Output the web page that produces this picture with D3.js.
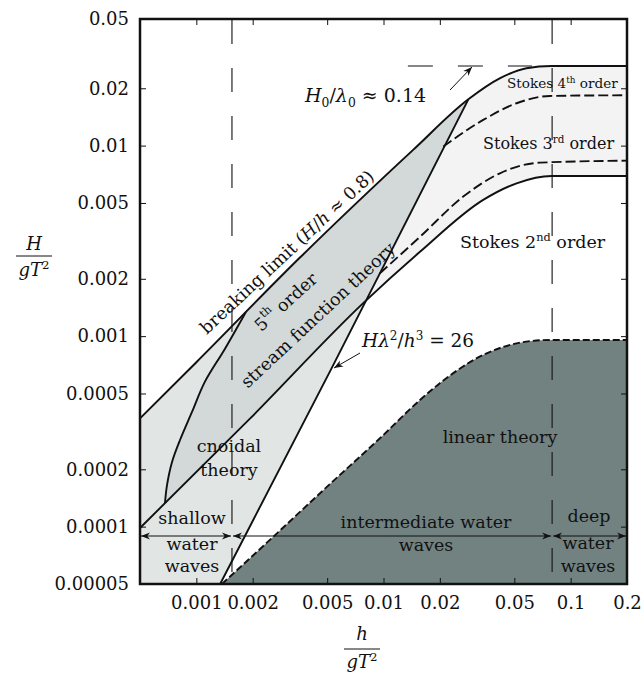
<!DOCTYPE html>
<html>
<head>
<meta charset="utf-8">
<script src="https://cdn.jsdelivr.net/npm/d3@7"></script>
<style>
  html, body { margin: 0; padding: 0; background: #fff; }
  svg { display: block; }
  text { font-family: "DejaVu Serif", serif; fill: #111; }
</style>
</head>
<body>
<svg id="chart" width="641" height="677"></svg>
<script>
// ---- axis ticks ----
const xTickValues = [0.001, 0.002, 0.005, 0.01, 0.02, 0.05, 0.1, 0.2];
const xTickLabels = ["0.001", "0.002", "0.005", "0.01", "0.02", "0.05", "0.1", "0.2"];
const yTickValues = [0.00005, 0.0001, 0.0002, 0.0005, 0.001, 0.002, 0.005, 0.01, 0.02, 0.05];
const yTickLabels = ["0.00005", "0.0001", "0.0002", "0.0005", "0.001", "0.002", "0.005", "0.01", "0.02", "0.05"];

// ---- shallow / intermediate / deep water limits (h/gT²) ----
const depthLimits = [0.0005, 0.00155, 0.0796, 0.2];

// ---- breaking limit, H/h ≈ 0.8 turning into H0/λ0 ≈ 0.14 ----
const breakingDepth  = [0.0005, 0.001, 0.0036, 0.0144, 0.0284, 0.042, 0.058, 0.079, 0.2];
const breakingHeight = [0.00037, 0.00073, 0.0026, 0.0095, 0.0175, 0.0226, 0.0255, 0.0262, 0.0262];

// ---- deep-water steepness limit H0/λ0 ≈ 0.14 (dashed guide) ----
const steepDepth  = [0.0135, 0.0621];
const steepHeight = [0.0262, 0.0262];

// ---- Ursell limit Hλ²/h³ = 26 ----
const ursellDepth  = [0.00134, 0.00537, 0.0284];
const ursellHeight = [0.00005, 0.0007, 0.0175];

// ---- lower bound of stream function / Stokes region (solid) ----
const lowerDepth  = [0.0005, 0.00194, 0.00779, 0.01566, 0.0341, 0.0514, 0.0791, 0.2];
const lowerHeight = [0.0000984, 0.00037, 0.00149, 0.00277, 0.00519, 0.00634, 0.00693, 0.00693];

// ---- cnoidal / stream function boundary ----
const cnoidalDepth  = [0.00068, 0.000697, 0.000741, 0.000818, 0.000948, 0.00111, 0.00142, 0.00184];
const cnoidalHeight = [0.000133, 0.000165, 0.000218, 0.000285, 0.0004, 0.000575, 0.000857, 0.00134];

// ---- Stokes 4th / 3rd order boundary ----
const stokes4Depth  = [0.02086, 0.0341, 0.0514, 0.0775, 0.2];
const stokes4Height = [0.00988, 0.01364, 0.01669, 0.01823, 0.01838];

// ---- Stokes 3rd / 2nd order boundary ----
const stokes3Depth  = [0.00957, 0.01566, 0.02667, 0.0419, 0.0686, 0.2];
const stokes3Height = [0.00214, 0.00332, 0.0054, 0.00716, 0.00814, 0.00834];

// ---- upper limit of linear theory ----
const linearDepth  = [0.00137, 0.00257, 0.00518, 0.00957, 0.01566, 0.02, 0.0356, 0.0536, 0.0775, 0.2];
const linearHeight = [0.00005, 0.0000883, 0.0001675, 0.000291, 0.000462, 0.000566, 0.000813, 0.000924, 0.000955, 0.000955];

// ---- scales ----
const padL = 140, padR = 627, padT = 19, padB = 584;
const x = d3.scaleLog().domain([0.0005, 0.2]).range([padL, padR]);
const y = d3.scaleLog().domain([0.00005, 0.0462]).range([padB, padT]).clamp(true);

const svg = d3.select("#chart");

const pts = (xs, ys) => xs.map((v, i) => [x(v), y(ys[i])]);
const mono = d3.line().curve(d3.curveMonotoneX);
const lin = d3.line();
const smooth = d3.line().curve(d3.curveCatmullRom.alpha(0.5));
const join = (...parts) => parts.map((p, i) => i ? p.replace(/^M/, "L") : p).join("") + "Z";

const bk = pts(breakingDepth, breakingHeight);
const ur = pts(ursellDepth, ursellHeight);
const lw = pts(lowerDepth, lowerHeight);
const cn = pts(cnoidalDepth, cnoidalHeight);
const s4 = pts(stokes4Depth, stokes4Height);
const s3 = pts(stokes3Depth, stokes3Height);
const ln = pts(linearDepth, linearHeight);
const tip = bk.length - 5; // breaking point where the Ursell line ends

// ---- filled regions ----
const fills = svg.append("g");

// shallow / cnoidal region under the breaking limit, left of the Ursell line
fills.append("path")
  .attr("d", join(mono(bk.slice(0, tip + 1)), lin(ur.slice().reverse()), lin([[x(0.0005), y(0.00005)]])))
  .attr("fill", "#e1e5e4");

// Stokes band right of the Ursell line
fills.append("path")
  .attr("d", join(mono(bk.slice(tip)), mono(lw.slice(2).reverse())))
  .attr("fill", "#f3f3f3");

// 5th order stream function lens
fills.append("path")
  .attr("d", join(smooth(cn), mono([cn[cn.length - 1], ...bk.slice(2, tip + 1)]),
                  lin([bk[tip], lw[2], lw[1], cn[0]])))
  .attr("fill", "#d3d9d9");

// linear theory region
fills.append("path")
  .attr("d", join(mono(ln), lin([[x(0.2), y(0.00005)]])))
  .attr("fill", "#728281");

// ---- ticks (inward, all four sides) ----
const fontFix = g => g.selectAll("text").style("font-family", '"DejaVu Serif", serif').attr("fill", "#111");
const axB = svg.append("g").attr("transform", `translate(0,${padB})`)
  .call(d3.axisBottom(x).tickValues(xTickValues).tickFormat((d, i) => xTickLabels[i]).tickSize(-6).tickPadding(12));
const axT = svg.append("g").attr("transform", `translate(0,${padT})`)
  .call(d3.axisTop(x).tickValues(xTickValues).tickFormat("").tickSize(-6));
const axL = svg.append("g").attr("transform", `translate(${padL},0)`)
  .call(d3.axisLeft(y).tickValues(yTickValues).tickFormat((d, i) => yTickLabels[i]).tickSize(-6).tickPadding(11));
const axR = svg.append("g").attr("transform", `translate(${padR},0)`)
  .call(d3.axisRight(y).tickValues(yTickValues).tickFormat("").tickSize(-6));
[axB, axT, axL, axR].forEach(g => {
  g.select(".domain").remove();
  g.selectAll("line").attr("stroke", "#111").attr("stroke-width", 1);
  g.attr("font-size", 18);
  fontFix(g);
});

// ---- region divider verticals ----
svg.append("g").selectAll("line").data([depthLimits[1], depthLimits[2]]).join("line")
  .attr("x1", d => x(d)).attr("x2", d => x(d))
  .attr("y1", padT + 1).attr("y2", padB)
  .attr("stroke", "#111").attr("stroke-width", 1.1).attr("stroke-dasharray", "24,24");

// ---- curves ----
const curves = svg.append("g").attr("fill", "none").attr("stroke", "#111").attr("stroke-linejoin", "round");
curves.append("path").attr("d", mono(bk)).attr("stroke-width", 2);
curves.append("path").attr("d", lin(ur)).attr("stroke-width", 1.9);
curves.append("path").attr("d", mono(lw)).attr("stroke-width", 1.9);
curves.append("path").attr("d", smooth(cn)).attr("stroke-width", 1.9);
curves.append("path").attr("d", mono(s4)).attr("stroke-width", 1.9).attr("stroke-dasharray", "10,4");
curves.append("path").attr("d", mono(s3)).attr("stroke-width", 1.9).attr("stroke-dasharray", "10,4");
curves.append("path").attr("d", mono(ln)).attr("stroke-width", 1.9).attr("stroke-dasharray", "7,3");
curves.append("path").attr("d", lin(pts(steepDepth, steepHeight))).attr("stroke-width", 1.1).attr("stroke-dasharray", "25,25");

// ---- arrow markers ----
const defs = svg.append("defs");
defs.append("marker").attr("id", "head").attr("viewBox", "0 0 10 10")
  .attr("refX", 10).attr("refY", 5).attr("markerWidth", 9).attr("markerHeight", 9)
  .attr("markerUnits", "userSpaceOnUse").attr("orient", "auto-start-reverse")
  .append("path").attr("d", "M0,1 L10,5 L0,9 L3,5 Z").attr("fill", "#111");

// water depth ranges
const arrowY = 536;
svg.append("g").selectAll("line").data(d3.pairs(depthLimits)).join("line")
  .attr("x1", d => x(d[0]) + 1).attr("x2", d => x(d[1]) - 1)
  .attr("y1", arrowY).attr("y2", arrowY)
  .attr("stroke", "#111").attr("stroke-width", 1.1)
  .attr("marker-start", "url(#head)").attr("marker-end", "url(#head)");

// label pointers
svg.append("line").attr("x1", 450).attr("y1", 90).attr("x2", 472).attr("y2", 67)
  .attr("stroke", "#111").attr("stroke-width", 1).attr("marker-end", "url(#head)");
svg.append("line").attr("x1", 360).attr("y1", 353).attr("x2", 334).attr("y2", 368)
  .attr("stroke", "#111").attr("stroke-width", 1).attr("marker-end", "url(#head)");

// ---- frame ----
svg.append("rect").attr("x", padL).attr("y", padT).attr("width", padR - padL).attr("height", padB - padT)
  .attr("fill", "none").attr("stroke", "#111").attr("stroke-width", 2.5);

// ---- text ----
const T = svg.append("g");
function label(parts, opts) {
  const fs = opts.size || 17.5;
  const t = T.append("text")
    .attr("x", opts.x).attr("y", opts.y)
    .attr("font-size", fs)
    .attr("text-anchor", opts.anchor || "start");
  if (opts.rotate !== undefined) {
    t.attr("transform", `rotate(${opts.rotate},${opts.x},${opts.y})`)
     .attr("dominant-baseline", "central");
  }
  let shift = 0;
  parts.forEach(p => {
    const s = t.append("tspan").text(p.t);
    if (p.i) s.attr("font-style", "italic");
    const want = p.sup ? -0.4 : p.sub ? 0.25 : 0;
    if (want !== shift) s.attr("dy", (want - shift) * fs);
    shift = want;
    if (p.sup || p.sub) s.attr("font-size", fs * 0.65);
  });
  return t;
}
const plain = s => [{ t: s }];

label(plain("shallow"), { x: 192, y: 524, anchor: "middle" });
label(plain("water"), { x: 192, y: 550, anchor: "middle" });
label(plain("waves"), { x: 192, y: 572, anchor: "middle" });
label(plain("intermediate water"), { x: 426, y: 528, anchor: "middle" });
label(plain("waves"), { x: 426, y: 551, anchor: "middle" });
label(plain("deep"), { x: 589, y: 522, anchor: "middle" });
label(plain("water"), { x: 588, y: 549, anchor: "middle" });
label(plain("waves"), { x: 588, y: 572, anchor: "middle" });
label(plain("linear theory"), { x: 500, y: 443, anchor: "middle" });
label(plain("cnoidal"), { x: 229, y: 452, anchor: "middle" });
label(plain("theory"), { x: 229, y: 476, anchor: "middle" });

label([{ t: "Stokes 2" }, { t: "nd", sup: true }, { t: " order" }], { x: 460, y: 248, size: 17.5 });
label([{ t: "Stokes 3" }, { t: "rd", sup: true }, { t: " order" }], { x: 483, y: 149, size: 16 });
label([{ t: "Stokes 4" }, { t: "th", sup: true }, { t: " order" }], { x: 507, y: 88, size: 13.6 });

label([{ t: "H", i: true }, { t: "0", sub: true }, { t: "/" }, { t: "λ", i: true }, { t: "0", sub: true }, { t: " ≈ 0.14" }],
      { x: 305, y: 102, size: 19 });
label([{ t: "Hλ", i: true }, { t: "2", sup: true }, { t: "/" }, { t: "h", i: true }, { t: "3", sup: true }, { t: " = 26" }],
      { x: 362, y: 347, size: 18.5 });

label([{ t: "breaking limit (" }, { t: "H", i: true }, { t: "/" }, { t: "h", i: true }, { t: " ≈ 0.8)" }],
      { x: 287, y: 252, anchor: "middle", rotate: -43 });
label([{ t: "5" }, { t: "th", sup: true }, { t: " order" }], { x: 286, y: 302, anchor: "middle", rotate: -42 });
label(plain("stream function theory"), { x: 318, y: 315, anchor: "middle", rotate: -43 });

// axis titles as fractions
function fraction(cx, numY, barY, denY, num) {
  label([{ t: num, i: true }], { x: cx, y: numY, anchor: "middle", size: 18 });
  T.append("line").attr("x1", cx - 18).attr("x2", cx + 18).attr("y1", barY).attr("y2", barY)
    .attr("stroke", "#111").attr("stroke-width", 1);
  label([{ t: "gT", i: true }, { t: "2", sup: true }], { x: cx, y: denY, anchor: "middle", size: 18 });
}
fraction(34, 250, 256, 276, "H");
fraction(362, 640, 649, 668, "h");
</script>
</body>
</html>
